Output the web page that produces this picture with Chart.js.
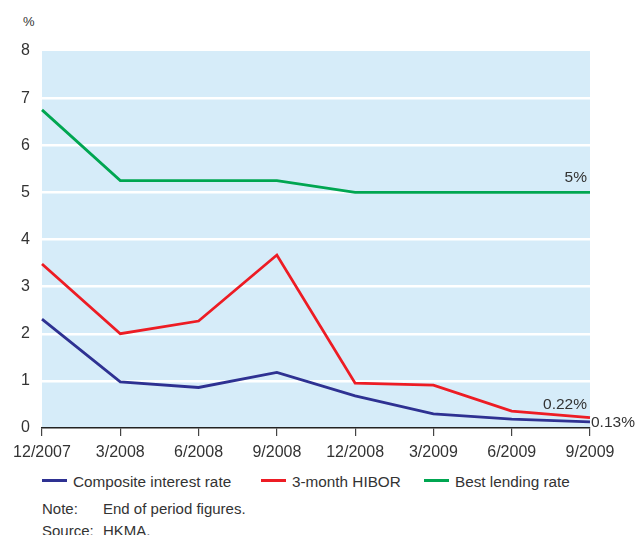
<!DOCTYPE html>
<html>
<head>
<meta charset="utf-8">
<script src="https://cdn.jsdelivr.net/npm/chart.js@4.4.1/dist/chart.umd.min.js"></script>
<style>
  html, body { margin: 0; padding: 0; background: #fff; }
  body { width: 638px; height: 535px; position: relative; overflow: hidden;
         font-family: "Liberation Sans", Arial, Helvetica, sans-serif; color: #333; }
  #wrap { position: absolute; left: 0; top: 0; width: 638px; height: 470px; }
  .unit { position: absolute; left: 23px; top: 14px; font-size: 13px; }
  .legend { position: absolute; top: 473px; left: 0; font-size: 15.3px; white-space: nowrap; }
  .legend span.item { position: absolute; top: 0; }
  .legend i { display: inline-block; width: 25px; height: 3px; vertical-align: middle; margin-right: 6px; position: relative; top: -2px; }
  .note { position: absolute; left: 42px; font-size: 15px; white-space: nowrap; }
  .note b { font-weight: normal; display: inline-block; width: 61px; }
</style>
</head>
<body>
<div class="unit">%</div>
<div id="wrap"><canvas id="c" width="638" height="470"></canvas></div>
<div class="legend">
  <span class="item" style="left:42px"><i style="background:#2e3192"></i>Composite interest rate</span>
  <span class="item" style="left:261px"><i style="background:#ed1c24"></i>3-month HIBOR</span>
  <span class="item" style="left:424px"><i style="background:#00a651"></i>Best lending rate</span>
</div>
<div class="note" style="top:500px"><b>Note:</b>End of period figures.</div>
<div class="note" style="top:522px"><b>Source:</b>HKMA.</div>
<script>
// Quarter-end periods
const periods = ['12/2007', '3/2008', '6/2008', '9/2008', '12/2008', '3/2009', '6/2009', '9/2009'];

// Interest rates, % (end of period)
const compositeRate = [2.31, 0.98, 0.86, 1.18, 0.68, 0.30, 0.19, 0.13];
const hibor3m       = [3.48, 2.00, 2.27, 3.67, 0.95, 0.91, 0.36, 0.22];
const bestLending   = [6.75, 5.25, 5.25, 5.25, 5.00, 5.00, 5.00, 5.00];

const yTicks = [0, 1, 2, 3, 4, 5, 6, 7, 8];

const COLORS = { composite: '#2e3192', hibor: '#ed1c24', blr: '#00a651' };
const TEXT = '#333333';
const FONT = "'Liberation Sans', Arial, Helvetica, sans-serif";

// Light blue panel behind the plot area
const panelBg = {
  id: 'panelBg',
  beforeDraw(chart) {
    const { ctx, chartArea: a } = chart;
    ctx.save();
    ctx.fillStyle = '#d6ecf9';
    ctx.fillRect(a.left, a.top, a.right - a.left, a.bottom - a.top);
    ctx.restore();
  }
};

// Latest-value labels at the right end of each line
const endLabels = {
  id: 'endLabels',
  afterDatasetsDraw(chart) {
    const { ctx, scales: { x, y } } = chart;
    const last = periods.length - 1;
    const px = x.getPixelForValue(last);
    ctx.save();
    ctx.font = '15.5px ' + FONT;
    ctx.fillStyle = TEXT;
    ctx.textBaseline = 'alphabetic';
    ctx.textAlign = 'right';
    ctx.fillText(bestLending[last] + '%', px - 3, y.getPixelForValue(bestLending[last]) - 10);
    ctx.fillText(hibor3m[last] + '%', px - 3, y.getPixelForValue(hibor3m[last]) - 9);
    ctx.textAlign = 'left';
    ctx.fillText(compositeRate[last] + '%', px + 1, y.getPixelForValue(compositeRate[last]) + 5);
    ctx.restore();
  }
};

const line = (data, color) => ({
  data, borderColor: color, backgroundColor: color,
  borderWidth: 2.8, pointRadius: 0, tension: 0, fill: false,
  borderJoinStyle: 'miter'
});

new Chart(document.getElementById('c'), {
  type: 'line',
  data: {
    labels: periods,
    datasets: [
      { label: 'Composite interest rate', ...line(compositeRate, COLORS.composite) },
      { label: '3-month HIBOR', ...line(hibor3m, COLORS.hibor) },
      { label: 'Best lending rate', ...line(bestLending, COLORS.blr) }
    ]
  },
  options: {
    responsive: false,
    animation: false,
    layout: { padding: { left: 0, right: 48, top: 51, bottom: 0 } },
    plugins: { legend: { display: false }, tooltip: { enabled: false } },
    scales: {
      x: {
        offset: false,
        border: { display: true, color: '#222', width: 1.5 },
        grid: { drawOnChartArea: false, drawTicks: true, tickLength: 8, color: '#444', lineWidth: 1.2 },
        ticks: { color: TEXT, font: { family: FONT, size: 16 }, padding: 7, maxRotation: 0, autoSkip: false },
        afterFit(s) { s.height = 42; }
      },
      y: {
        min: 0, max: 8,
        afterBuildTicks(s) { s.ticks = yTicks.map(v => ({ value: v })); },
        border: { display: false },
        grid: {
          drawTicks: false,
          lineWidth: 2.5,
          color: c => (c.tick && (c.tick.value === 0 || c.tick.value === 8)) ? 'rgba(0,0,0,0)' : '#ffffff'
        },
        ticks: { color: TEXT, font: { family: FONT, size: 16 }, padding: 12 },
        afterFit(s) { s.width = 42; }
      }
    }
  },
  plugins: [panelBg, endLabels]
});
</script>
</body>
</html>
